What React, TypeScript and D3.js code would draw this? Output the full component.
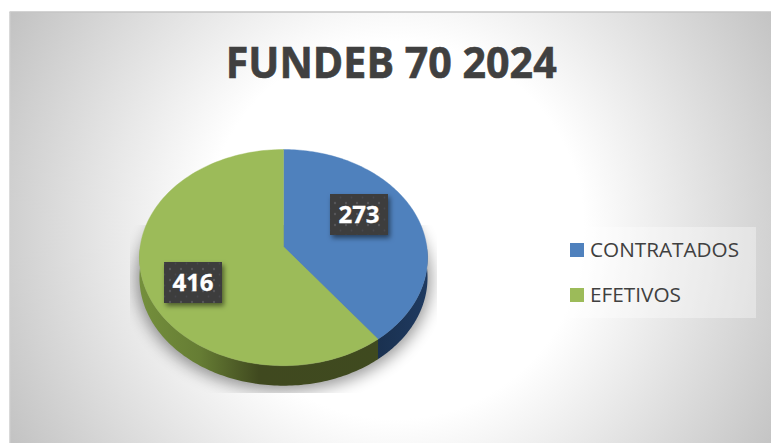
import React from "react";
import * as d3 from "d3";

const categories = ["CONTRATADOS", "EFETIVOS"];
const values = [273, 416];
const title = "FUNDEB 70 2024";

const W = 771, H = 443;
const disk = { cx: 283.5, cy: 246.7, R: 143.3, S: 107, k: 0.1008, depth: 20 };
const topColors = ["#4f81bd", "#9cbb59"];
const labelBoxes = [{ cx: 359, cy: 214.5 }, { cx: 193, cy: 282.5 }];
const legendRows = [250, 295];
const legendWidths = [149, 91];

const project = (theta: number, r = 1, dy = 0): [number, number] => {
  const u = r * Math.sin(theta), v = -r * Math.cos(theta);
  const d = 1 - disk.k * v;
  return [disk.cx + (disk.R * u) / d, disk.cy + (disk.S * v) / d + dy];
};
const samples = (a: number, b: number) => d3.range(0, 121).map((i) => a + ((b - a) * i) / 120);
const line = d3.line<[number, number]>();

export default function App() {
  const arcs = d3.pie<number>().sort(null)(values);
  const wedge = (a: number, b: number) => line([[disk.cx, disk.cy], ...samples(a, b).map((t) => project(t))])! + "Z";
  const side = (a: number, b: number) =>
    line([...samples(a, b).map((t) => project(t)), ...samples(a, b).reverse().map((t) => project(t, 1, disk.depth))])! + "Z";
  const fullDisk = line(samples(0, 2 * Math.PI).map((t) => project(t, 1, disk.depth)))! + "Z";
  const frontEnd = (3 * Math.PI) / 2 + 0.02;
  const frontStart = Math.PI / 2 - 0.02;

  return (
    <svg width={W} height={H} style={{ position: "fixed", left: 0, top: 0 }} xmlns="http://www.w3.org/2000/svg">
      <defs>
        <radialGradient id="bg" gradientUnits="userSpaceOnUse" cx={395} cy={230} r={450}>
          <stop offset="0" stopColor="#ffffff" />
          <stop offset="0.42" stopColor="#ffffff" />
          <stop offset="1" stopColor="#c0c0c0" />
        </radialGradient>
        <linearGradient id="sideGreen" gradientUnits="userSpaceOnUse" x1={140} x2={378} y1={0} y2={0}>
          <stop offset="0" stopColor="#748f3c" />
          <stop offset="0.25" stopColor="#667d34" />
          <stop offset="0.5" stopColor="#40491f" />
          <stop offset="1" stopColor="#3f4a1f" />
        </linearGradient>
        <linearGradient id="sideBlue" gradientUnits="userSpaceOnUse" x1={378} x2={428} y1={0} y2={0}>
          <stop offset="0" stopColor="#1a3150" />
          <stop offset="1" stopColor="#1f3a60" />
        </linearGradient>
        <filter id="blur" x="-30%" y="-30%" width="160%" height="160%">
          <feGaussianBlur stdDeviation="8" />
        </filter>
        <filter id="boxShadow" x="-30%" y="-30%" width="170%" height="170%">
          <feDropShadow dx="2" dy="3" stdDeviation="2.5" floodColor="#000" floodOpacity="0.5" />
        </filter>
        <clipPath id="shadowClip">
          <rect x={130} y={225} width={307} height={168} />
        </clipPath>
        <pattern id="dots" width="11" height="11" patternUnits="userSpaceOnUse" x="2" y="2">
          <rect width="11" height="11" fill="#3c3c3e" />
          <circle cx="3" cy="3" r="1.2" fill="#565658" />
          <circle cx="8.5" cy="8.5" r="0.9" fill="#4a4a4c" />
        </pattern>
      </defs>

      <rect width={W} height={H} fill="#fff" />
      <rect x={9.5} y={12} width={W - 9.5} height={H - 12} fill="url(#bg)" />
      <line x1={9.5} x2={W} y1={12} y2={12} stroke="#c4c4c4" strokeWidth={1.5} />
      <line x1={10} x2={10} y1={12} y2={H} stroke="#d0d0d0" strokeWidth={1} />

      <text x={391.2} y={77.5} textAnchor="middle" fontFamily="'Open Sans', sans-serif" fontWeight={700} fontSize={42.5} fill="#404040" stroke="#404040" strokeWidth={0.6} textLength={331} lengthAdjust="spacingAndGlyphs">
        {title}
      </text>

      <g clipPath="url(#shadowClip)">
        <path d={fullDisk} fill="#000" stroke="#000" strokeWidth={6} opacity={0.42} filter="url(#blur)" transform="translate(0,2)" />
      </g>

      {arcs.map((a, i) => {
        const s = Math.max(a.startAngle, frontStart), e = Math.min(a.endAngle, frontEnd);
        return <path key={"s" + i} d={side(s, e)} fill={i === 0 ? "url(#sideBlue)" : "url(#sideGreen)"} />;
      })}
      {arcs.map((a, i) => (
        <path key={"t" + i} d={wedge(a.startAngle, a.endAngle)} fill={topColors[i]} stroke={topColors[i]} strokeWidth={0.4} />
      ))}

      {values.map((v, i) => {
        const b = labelBoxes[i];
        return (
          <g key={"l" + i}>
            <rect x={b.cx - 29} y={b.cy - 20.5} width={58} height={41} fill="url(#dots)" filter="url(#boxShadow)" />
            <text x={b.cx} y={b.cy + 8.5} textAnchor="middle" fontFamily="'Open Sans', sans-serif" fontWeight={700} fontSize={24} fill="#fff" stroke="#fff" strokeWidth={0.3}>
              {d3.format("d")(v)}
            </text>
          </g>
        );
      })}

      <rect x={558} y={227} width={198} height={91} fill="#ffffff" opacity={0.35} />
      {categories.map((c, i) => (
        <g key={c}>
          <rect x={570} y={legendRows[i] - 7} width={14} height={14} fill={topColors[i]} />
          <text x={590} y={legendRows[i] + 6.8} fontFamily="'Open Sans', sans-serif" fontSize={20} fill="#404040" textLength={legendWidths[i]} lengthAdjust="spacingAndGlyphs">
            {c}
          </text>
        </g>
      ))}
    </svg>
  );
}
